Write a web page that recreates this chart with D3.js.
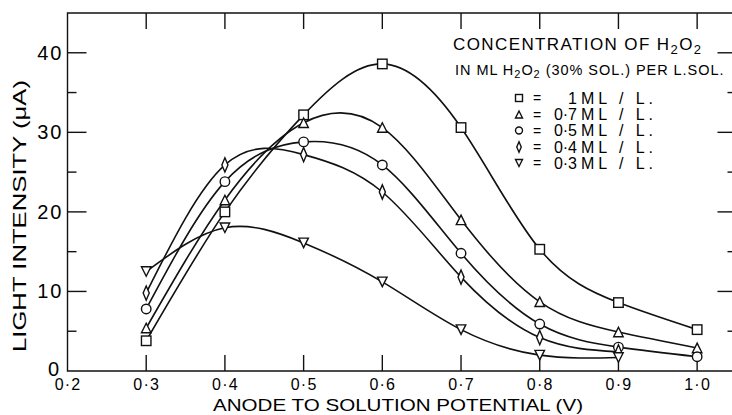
<!DOCTYPE html>
<html>
<head>
<meta charset="UTF-8">
<title>Light intensity vs anode potential</title>
<style>
  body { margin: 0; background: #fff; }
  svg { display: block; font-family: "Liberation Sans", Arial, sans-serif; }
  .frame { stroke: #111; stroke-width: 1.4; fill: none; }
  .curve { stroke: #111; stroke-width: 1.6; fill: none; }
  .mark { stroke: #111; stroke-width: 1.4; fill: #fff; }
</style>
</head>
<body>
<svg id="chart" width="732" height="415"></svg>
<script src="https://cdn.jsdelivr.net/npm/d3@7"></script>
<script>
// anode potential (V)
const potentials = [0.3, 0.4, 0.5, 0.6, 0.7, 0.8, 0.9, 1.0];
// light intensity (uA) for each H2O2 concentration
const conc10 = [3.8, 20.0, 32.2, 38.6, 30.6, 15.3, 8.6, 5.2];
const conc07 = [5.4, 21.5, 31.2, 30.6, 19.0, 8.7, 4.9, 2.9];
const conc05 = [7.8, 23.8, 28.8, 25.9, 14.8, 5.9, 3.0, 1.8];
const conc04 = [9.8, 25.9, 27.2, 22.5, 11.8, 4.2, 2.4, null];
const conc03 = [12.5, 18.0, 16.1, 11.2, 5.2, 2.0, 1.7, null];

const seriesNames = ['1', '0·7', '0·5', '0·4', '0·3'];
const seriesSymbols = ['square', 'up', 'circle', 'diamond', 'down'];
const seriesValues = [conc10, conc07, conc05, conc04, conc03];

const xTicks = [0.2, 0.3, 0.4, 0.5, 0.6, 0.7, 0.8, 0.9, 1.0];
const yMajor = [10, 20, 30, 40];
const yMinor = [5, 15, 25, 35];

const svg = d3.select('#chart');
const x = d3.scaleLinear().domain([0.2, 1.05]).range([67.5, 736.5]);
const y = d3.scaleLinear().domain([0, 45]).range([371, 13]);
const fmt = v => d3.format('.1f')(v).replace('.', '·');

// frame: left, top, bottom (right edge falls just outside the picture)
svg.append('path').attr('class', 'frame')
  .attr('d', `M${x(1.05)},${y(45)}H${x(0.2)}V${y(0)}H${x(1.05)}`);

// ticks on all sides
const tk = svg.append('g').attr('class', 'frame');
xTicks.slice(1).forEach(t => {
  tk.append('line').attr('x1', x(t)).attr('x2', x(t)).attr('y1', y(0)).attr('y2', y(0) - 16);
  tk.append('line').attr('x1', x(t)).attr('x2', x(t)).attr('y1', y(45)).attr('y2', y(45) + 16);
});
yMajor.forEach(t => {
  tk.append('line').attr('x1', x(0.2)).attr('x2', x(0.2) + 19).attr('y1', y(t)).attr('y2', y(t));
  tk.append('line').attr('x1', x(1.05)).attr('x2', x(1.05) - 19).attr('y1', y(t)).attr('y2', y(t));
});
yMinor.forEach(t => {
  tk.append('line').attr('x1', x(0.2)).attr('x2', x(0.2) + 9).attr('y1', y(t)).attr('y2', y(t));
  tk.append('line').attr('x1', x(1.05)).attr('x2', x(1.05) - 9).attr('y1', y(t)).attr('y2', y(t));
});

// tick labels
svg.append('g').selectAll('text').data(xTicks).join('text')
  .attr('x', d => x(d) + 0.5).attr('y', 390)
  .attr('text-anchor', 'middle').attr('font-size', 16).attr('letter-spacing', 1.2)
  .text(d => fmt(d));
svg.append('g').selectAll('text').data([0].concat(yMajor)).join('text')
  .attr('x', d => d === 0 ? 61 : 63.5).attr('y', d => y(d) + (d === 0 ? 5 : 7))
  .attr('text-anchor', 'end').attr('font-size', 20).attr('letter-spacing', 2)
  .text(d => d);

// axis titles
svg.append('text').attr('x', 398).attr('y', 411)
  .attr('text-anchor', 'middle').attr('font-size', 16.5)
  .attr('textLength', 370).attr('lengthAdjust', 'spacingAndGlyphs')
  .text('ANODE TO SOLUTION POTENTIAL (V)');
svg.append('text').attr('transform', 'translate(26,216) rotate(-90)')
  .attr('text-anchor', 'middle').attr('font-size', 19)
  .attr('textLength', 272).attr('lengthAdjust', 'spacingAndGlyphs')
  .text('LIGHT INTENSITY (μA)');

// marker shapes
function marker(g, kind, cx, cy, s) {
  if (kind === 'square') {
    g.append('rect').attr('class', 'mark')
      .attr('x', cx - s / 2).attr('y', cy - s / 2).attr('width', s).attr('height', s);
  } else if (kind === 'circle') {
    g.append('circle').attr('class', 'mark').attr('cx', cx).attr('cy', cy).attr('r', s / 2);
  } else if (kind === 'up') {
    g.append('path').attr('class', 'mark')
      .attr('d', `M${cx},${cy - s / 2}L${cx + s / 2},${cy + s / 2}L${cx - s / 2},${cy + s / 2}Z`);
  } else if (kind === 'down') {
    g.append('path').attr('class', 'mark')
      .attr('d', `M${cx - s / 2},${cy - s / 2}L${cx + s / 2},${cy - s / 2}L${cx},${cy + s / 2}Z`);
  } else if (kind === 'diamond') {
    g.append('path').attr('class', 'mark')
      .attr('d', `M${cx},${cy - s * 0.75}L${cx + s * 0.32},${cy}L${cx},${cy + s * 0.75}L${cx - s * 0.32},${cy}Z`);
  }
}

// curves
const line = d3.line()
  .x(d => x(d[0])).y(d => y(d[1]))
  .curve(d3.curveNatural);

const plot = svg.append('g');
seriesValues.forEach((vals, i) => {
  const pts = potentials.map((p, j) => [p, vals[j]]).filter(d => d[1] != null);
  plot.append('path').attr('class', 'curve').attr('d', line(pts));
});
seriesValues.forEach((vals, i) => {
  const g = plot.append('g');
  potentials.forEach((p, j) => {
    if (vals[j] != null) marker(g, seriesSymbols[i], x(p), y(vals[j]), 9.5);
  });
});

// legend
const lg = svg.append('g');
const t1 = lg.append('text').attr('x', 453).attr('y', 50)
  .attr('font-size', 17).attr('letter-spacing', 1.4);
t1.append('tspan').text('CONCENTRATION  OF  H');
t1.append('tspan').attr('font-size', 13).attr('dy', 4).text('2');
t1.append('tspan').attr('dy', -4).text('O');
t1.append('tspan').attr('font-size', 13).attr('dy', 4).text('2');

const t2 = lg.append('text').attr('x', 455).attr('y', 75)
  .attr('font-size', 14.5).attr('letter-spacing', 0.95);
t2.append('tspan').text('IN  ML  H');
t2.append('tspan').attr('font-size', 11).attr('dy', 3).text('2');
t2.append('tspan').attr('dy', -3).text('O');
t2.append('tspan').attr('font-size', 11).attr('dy', 3).text('2');
t2.append('tspan').attr('dy', -3).text(' (30% SOL.) PER L.SOL.');

const rowY = [98, 114.5, 130.5, 147, 163];
seriesNames.forEach((name, i) => {
  marker(lg, seriesSymbols[i], 519, rowY[i], 7);
  lg.append('text').attr('x', 537).attr('y', rowY[i] + 5).attr('font-size', 14)
    .attr('text-anchor', 'middle').text('=');
  lg.append('text').attr('x', 577).attr('y', rowY[i] + 5.5).attr('font-size', 16)
    .attr('text-anchor', 'end').text(name);
  lg.append('text').attr('x', 581).attr('y', rowY[i] + 5.5).attr('font-size', 16)
    .attr('textLength', 72).attr('lengthAdjust', 'spacing').text('ML / L.');
});
</script>
</body>
</html>
